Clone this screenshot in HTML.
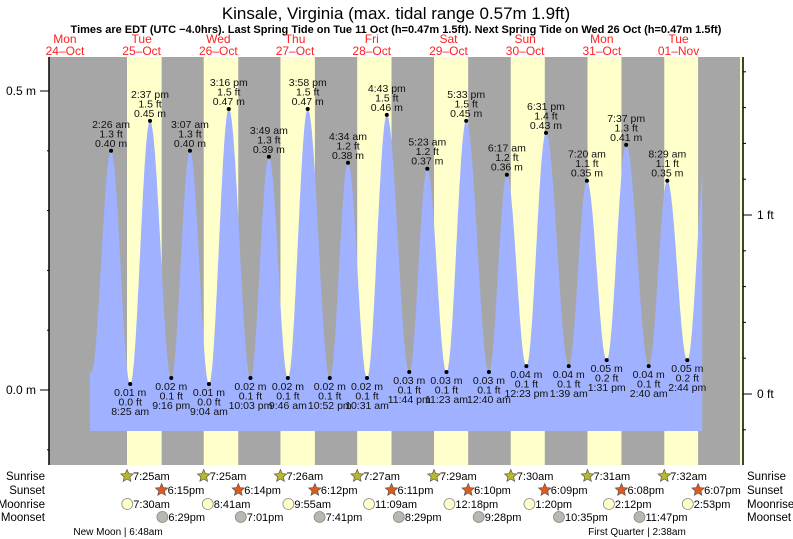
<!DOCTYPE html>
<html><head><meta charset="utf-8"><style>
body{margin:0;background:#fff;}
svg{display:block;font-family:"Liberation Sans",sans-serif;}
</style></head><body>
<svg id="c" width="793" height="539" viewBox="0 0 793 539" xmlns="http://www.w3.org/2000/svg">
<text x="396" y="19" text-anchor="middle" font-size="17" fill="#000">Kinsale, Virginia (max. tidal range 0.57m 1.9ft)</text>
<text x="396" y="33" text-anchor="middle" font-size="11" font-weight="bold" fill="#000">Times are EDT (UTC −4.0hrs). Last Spring Tide on Tue 11 Oct (h=0.47m 1.5ft). Next Spring Tide on Wed 26 Oct (h=0.47m 1.5ft)</text>
<g id="bg"></g><g id="tide"></g><g id="lbl"></g><g id="ax"></g><g id="astro"></g>
</svg>
<script>
const dayNames=["Mon","Tue","Wed","Thu","Fri","Sat","Sun","Mon","Tue"];
const dayDates=["24–Oct","25–Oct","26–Oct","27–Oct","28–Oct","29–Oct","30–Oct","31–Oct","01–Nov"];
const tideDay=[1,1,1,1,2,2,2,2,3,3,3,3,4,4,4,4,5,5,5,6,6,6,6,7,7,7,7,8,8,8];
const tideTime=["2:26 am","8:25 am","2:37 pm","9:16 pm","3:07 am","9:04 am","3:16 pm","10:03 pm","3:49 am","9:46 am","3:58 pm","10:52 pm","4:34 am","10:31 am","4:43 pm","11:44 pm","5:23 am","11:23 am","5:33 pm","12:40 am","6:17 am","12:23 pm","6:31 pm","1:39 am","7:20 am","1:31 pm","7:37 pm","2:40 am","8:29 am","2:44 pm"];
const tideM=[0.40,0.01,0.45,0.02,0.40,0.01,0.47,0.02,0.39,0.02,0.47,0.02,0.38,0.02,0.46,0.03,0.37,0.03,0.45,0.03,0.36,0.04,0.43,0.04,0.35,0.05,0.41,0.04,0.35,0.05];
const tideFt=["1.3","0.0","1.5","0.1","1.3","0.0","1.5","0.1","1.3","0.1","1.5","0.1","1.2","0.1","1.5","0.1","1.2","0.1","1.5","0.1","1.2","0.1","1.4","0.1","1.1","0.2","1.3","0.1","1.1","0.2"];
const sunrise=["7:25am","7:25am","7:26am","7:27am","7:29am","7:30am","7:31am","7:32am"];
const sunset=["6:15pm","6:14pm","6:12pm","6:11pm","6:10pm","6:09pm","6:08pm","6:07pm"];
const moonrise=["7:30am","8:41am","9:55am","11:09am","12:18pm","1:20pm","2:12pm","2:53pm"];
const moonset=["6:29pm","7:01pm","7:41pm","8:29pm","9:28pm","10:35pm","11:47pm"];
const yTicksM=[0.5,0.0];
const yTicksFt=[1,0];

const NS="http://www.w3.org/2000/svg";
const X0=26.6, PXH=76.7/24, PL=49, PR=740, PT=57, PB=465;
const x=t=>X0+t*PXH;
const y=m=>390-m*598;
const yft=f=>394-f*179;
function hrs(s){const m=s.match(/(\d+):(\d+)\s*(am|pm)/);let h=+m[1]%12;if(m[3]=="pm")h+=12;return h+ +m[2]/60;}
function el(p,tag,a,txt){const e=document.createElementNS(NS,tag);for(const k in a)e.setAttribute(k,a[k]);if(txt!==undefined)e.textContent=txt;document.getElementById(p).appendChild(e);return e;}

let r=el("bg","rect",{x:PL,y:PT,width:PR-PL,height:PB-PT,fill:"#a6a6a6"});


for(let d=0;d<8;d++){const a=x((d+1)*24+hrs(sunrise[d])),b=x((d+1)*24+hrs(sunset[d]));
 const e=el("bg","rect",{x:a,y:PT,width:b-a,height:PB-PT,fill:"#ffffcc"});
 
 }
el("bg","rect",{x:PR,y:PT,width:3,height:PB-PT,fill:"#ffffcc"});
for(let d=0;d<9;d++){const cx=x(d*24+12);
 const t1=el("bg","text",{x:cx,y:43,"text-anchor":"middle","font-size":"12",fill:"#ff2020"},dayNames[d]);
 
 
 const t2=el("bg","text",{x:cx,y:55,"text-anchor":"middle","font-size":"12",fill:"#ff2020"},dayDates[d]);
 
 }

const T=tideTime.map((s,i)=>tideDay[i]*24+hrs(s));
const ts=[T[0]-6.2].concat(T,[T[T.length-1]+6.1]);
const hs=[0.03].concat(tideM,[0.41]);
const tStart=19.8,tEnd=211.4;
let pts=[];
for(let t=tStart;t<=tEnd;t+=0.1){let i=0;while(i<ts.length-2&&ts[i+1]<t)i++;
 const f=Math.min(1,Math.max(0,(t-ts[i])/(ts[i+1]-ts[i])));const h=hs[i]+(hs[i+1]-hs[i])*(1-Math.cos(Math.PI*f))/2;
 pts.push(x(t).toFixed(1)+","+y(h).toFixed(1));}
pts.push(x(tEnd).toFixed(1)+",431");pts.push(x(tStart).toFixed(1)+",431");
const poly=el("tide","polygon",{points:pts.join(" "),fill:"#9fb1ff"});



tideM.forEach((m,i)=>{const px=x(T[i]),py=y(m),hi=i%2==0;
 const dt=el("lbl","circle",{cx:px,cy:py,r:2,fill:"#000"});
 
 
 const lines=hi?[[tideTime[i],-23],[tideFt[i]+" ft",-13.5],[m.toFixed(2)+" m",-4]]:[[m.toFixed(2)+" m",12],[tideFt[i]+" ft",21.5],[tideTime[i],31]];
 lines.forEach(([s,o])=>{const t=el("lbl","text",{x:px,y:py+o,"text-anchor":"middle","font-size":"10.5",fill:"#111"},s);
  
  });});

el("ax","line",{x1:PL,y1:PT,x2:PL,y2:PB,stroke:"#000","stroke-width":"1.5"});
el("ax","line",{x1:743,y1:PT,x2:743,y2:PB,stroke:"#000","stroke-width":"1.5"});
for(let k=-1;k<=5;k++){const yy=y(k/10);el("ax","line",{x1:PL-(k%5==0?9:2),y1:yy,x2:PL,y2:yy,stroke:"#000"});}
yTicksM.forEach(v=>{const t=el("ax","text",{x:PL-13,y:y(v)+4,"text-anchor":"end","font-size":"12",fill:"#000"},v.toFixed(1)+" m");
 
 });
for(let k=-2;k<=9;k++){const yy=yft(k/5);if(yy<PT||yy>PB)continue;el("ax","line",{x1:743,y1:yy,x2:743+(k%5==0?9:3),y2:yy,stroke:"#000"});}
yTicksFt.forEach(v=>{const t=el("ax","text",{x:757,y:yft(v)+4,"font-size":"12",fill:"#000"},v+" ft");
 
 });

const rows=[["Sunrise",476],["Sunset",490],["Moonrise",504],["Moonset",517]];
rows.forEach(([n,yy])=>{
 const a=el("astro","text",{x:45,y:yy+4,"text-anchor":"end","font-size":"11.5",fill:"#000"},n);
 
 
 const b=el("astro","text",{x:747,y:yy+4,"font-size":"11.5",fill:"#000"},n);
 
 });
function star(cx,cy,fill){let p=[];for(let k=0;k<10;k++){const rr=k%2?3:6.5,a=-Math.PI/2+k*Math.PI/5;p.push((cx+rr*Math.cos(a)).toFixed(1)+","+(cy+rr*Math.sin(a)).toFixed(1));}
 return el("astro","polygon",{points:p.join(" "),fill:fill,stroke:"#555","stroke-width":"0.7"});}
function item(list,dayOff,yy,kind){list.forEach((s,d)=>{const cx=x((d+dayOff)*24+hrs(s));
 let ic;
 if(kind=="rise")ic=star(cx,yy,"#b8b830");else if(kind=="set")ic=star(cx,yy,"#e05a20");
 else ic=el("astro","circle",{cx:cx,cy:yy,r:5.5,fill:kind=="mr"?"#ffffcc":"#b8b8b0",stroke:"#888","stroke-width":"0.8"});
 
 
 const t=el("astro","text",{x:cx+6,y:yy+4,"font-size":"11",fill:"#000"},s);
 
 });}
item(sunrise,1,476,"rise");item(sunset,1,490,"set");item(moonrise,1,504,"mr");item(moonset,1,517,"ms");
const nm=el("astro","text",{x:118,y:535,"text-anchor":"middle","font-size":"10",fill:"#000"},"New Moon | 6:48am");


const fq=el("astro","text",{x:637,y:535,"text-anchor":"middle","font-size":"10",fill:"#000"},"First Quarter | 2:38am");


</script>
</body></html>
